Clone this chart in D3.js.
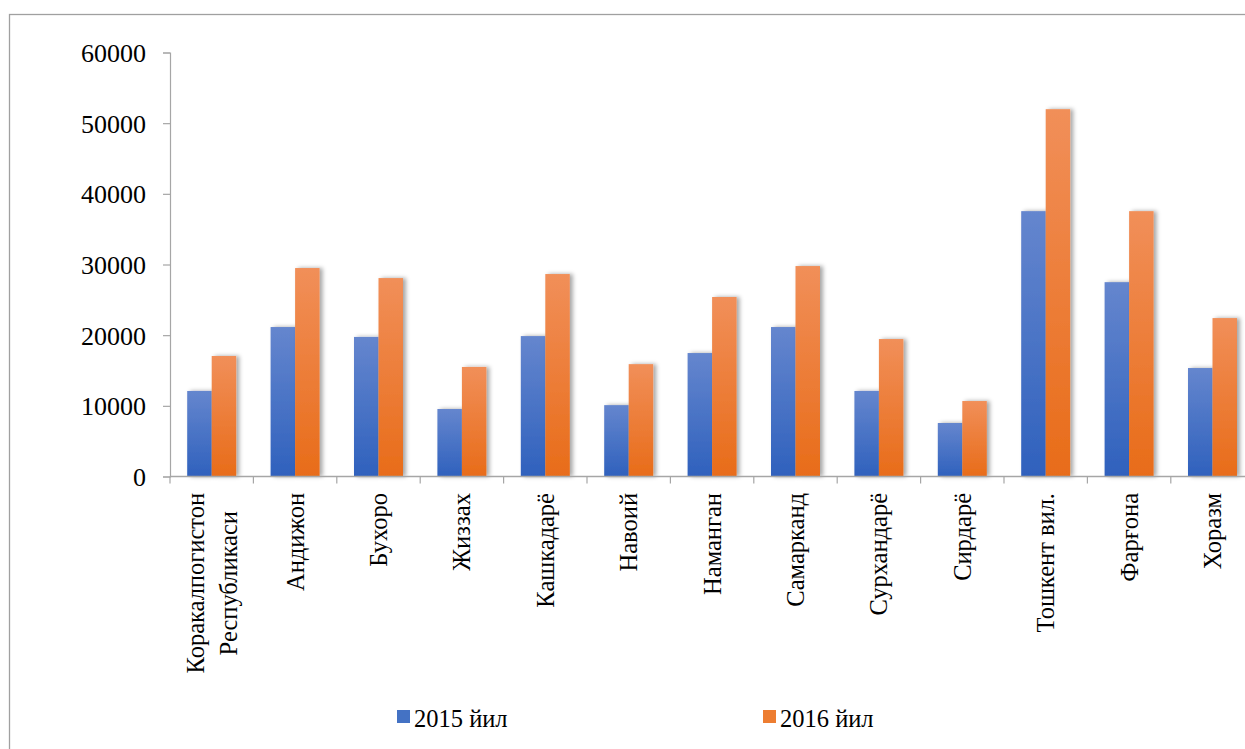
<!DOCTYPE html>
<html>
<head>
<meta charset="utf-8">
<script src="https://cdn.jsdelivr.net/npm/d3@7"></script>
<style>
  body { margin: 0; background: #fff; }
  svg text { font-family: "Times New Roman", "Liberation Serif", Times, serif !important; fill: #000; }
</style>
</head>
<body>
<div id="chart"></div>
<script>
// regions, one label can have two lines
var regions = [
  ["Коракалпогистон", "Республикаси"], ["Андижон"], ["Бухоро"], ["Жиззах"],
  ["Кашкадарё"], ["Навоий"], ["Наманган"], ["Самарканд"], ["Сурхандарё"],
  ["Сирдарё"], ["Тошкент вил."], ["Фарғона"], ["Хоразм"]
];
var values2015 = [12100, 21150, 19750, 9550, 19870, 10100, 17470, 21150, 12100, 7570, 37550, 27500, 15350];
var values2016 = [17050, 29500, 28080, 15500, 28650, 15900, 25400, 29780, 19450, 10680, 51980, 37550, 22420];
var seriesNames = ["2015 йил", "2016 йил"];
var yTicks = [0, 10000, 20000, 30000, 40000, 50000, 60000];

var W = 1245, H = 749;
var margin = { top: 52.5, left: 170 };
var bandW = 83.4;
var serif = "'Times New Roman', 'Liberation Serif', Times, serif";

var svg = d3.select("#chart").append("svg")
  .attr("width", W).attr("height", H)
  .attr("font-family", serif);

var defs = svg.append("defs");
var grads = [
  { id: "gBlue", top: "#6586ce", bottom: "#2f61bd" },
  { id: "gOrange", top: "#f18f59", bottom: "#e86c19" }
];
grads.forEach(function (g) {
  var lg = defs.append("linearGradient").attr("id", g.id)
    .attr("x1", 0).attr("y1", 0).attr("x2", 0).attr("y2", 1);
  lg.append("stop").attr("offset", "0%").attr("stop-color", g.top);
  lg.append("stop").attr("offset", "100%").attr("stop-color", g.bottom);
});
var f = defs.append("filter").attr("id", "shadow")
  .attr("x", "-30%").attr("y", "-10%").attr("width", "180%").attr("height", "120%");
f.append("feDropShadow").attr("dx", 3).attr("dy", 0).attr("stdDeviation", 2.2)
  .attr("flood-color", "#000").attr("flood-opacity", 0.35);

// outer border
svg.append("rect").attr("x", 9.5).attr("y", 14.5)
  .attr("width", W + 20).attr("height", H + 20)
  .attr("fill", "none").attr("stroke", "#a0a0a0").attr("stroke-width", 1.3);

var x = d3.scaleBand()
  .domain(d3.range(regions.length))
  .range([margin.left, margin.left + bandW * regions.length]);

// 49px wide pair of bars centred in each band
var xs = d3.scaleBand().domain([0, 1])
  .range([(bandW - 49) / 2, (bandW + 49) / 2]);

var y = d3.scaleLinear().domain([0, 60000]).range([476.5, margin.top]);

// bars
var data = [];
regions.forEach(function (r, i) {
  data.push({ i: i, s: 0, v: values2015[i] });
  data.push({ i: i, s: 1, v: values2016[i] });
});
svg.append("g").selectAll("rect")
  .data(data).enter().append("rect")
  .attr("x", function (d) { return x(d.i) + xs(d.s); })
  .attr("width", xs.bandwidth())
  .attr("y", function (d) { return y(d.v); })
  .attr("height", function (d) { return y(0) - y(d.v); })
  .attr("fill", function (d) { return d.s === 0 ? "url(#gBlue)" : "url(#gOrange)"; })
  .attr("filter", "url(#shadow)");

// y axis
var yAxis = svg.append("g")
  .attr("transform", "translate(" + margin.left + ",0)")
  .call(d3.axisLeft(y).tickValues(yTicks).tickFormat(d3.format("d")).tickSize(7).tickPadding(17));
yAxis.attr("font-family", serif).attr("font-size", 26);
yAxis.select(".domain").attr("stroke", "#a6a6a6").attr("stroke-width", 1.2);
yAxis.selectAll(".tick line").attr("stroke", "#a6a6a6").attr("stroke-width", 1.2);
yAxis.selectAll(".tick text").attr("dy", "0.35em");

// x axis
var xAxisG = svg.append("g");
xAxisG.append("line")
  .attr("x1", margin.left).attr("x2", W)
  .attr("y1", y(0)).attr("y2", y(0))
  .attr("stroke", "#a6a6a6").attr("stroke-width", 1.3);
xAxisG.selectAll(".xt").data(d3.range(regions.length + 1)).enter().append("line")
  .attr("x1", function (d) { return margin.left + d * bandW; })
  .attr("x2", function (d) { return margin.left + d * bandW; })
  .attr("y1", y(0)).attr("y2", y(0) + 7)
  .attr("stroke", "#a6a6a6").attr("stroke-width", 1.2);

// category labels, rotated
var labTop = 493;
var lineGap = 33;
regions.forEach(function (lines, i) {
  var cx = x(i) + bandW / 2;
  var g = svg.append("g");
  var texts = lines.map(function (t, k) {
    return g.append("text")
      .attr("dy", "0.35em")
      .attr("text-anchor", "middle")
      .attr("font-size", 24.5)
      .text(t);
  });
  var maxLen = d3.max(texts, function (t) { return t.node().getComputedTextLength(); });
  texts.forEach(function (t, k) {
    var off = (k - (lines.length - 1) / 2) * lineGap;
    t.attr("transform", "translate(" + (cx + off) + "," + (labTop + maxLen / 2) + ") rotate(-90)");
  });
});

// legend
var legendX = [397, 763];
var legendColors = ["#4472c4", "#ed7d31"];
seriesNames.forEach(function (name, k) {
  svg.append("rect").attr("x", legendX[k]).attr("y", 710)
    .attr("width", 13).attr("height", 13).attr("fill", legendColors[k]);
  svg.append("text").attr("x", legendX[k] + 17).attr("y", 727)
    .attr("font-size", 24.5).text(name);
});
</script>
</body>
</html>
